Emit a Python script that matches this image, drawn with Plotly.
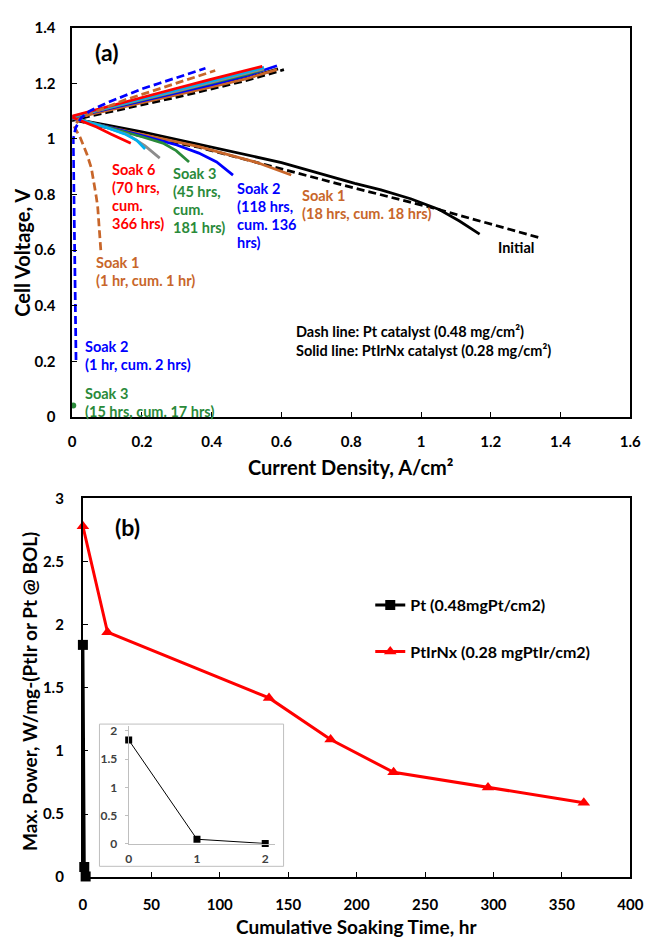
import plotly.graph_objects as go

W, H = 656, 942
FONT = "Lato, 'Open Sans', sans-serif"

# ---------------- Panel (a): polarization curves (current density A/cm2, cell voltage V)
# each curve: fuel-cell branch (fc) and electrolysis branch (el)
init_ptirnx_fc_i = [0.0, 0.03, 0.1, 0.2, 0.363, 0.6, 0.81, 0.885, 0.97, 1.052, 1.11, 1.168]
init_ptirnx_fc_v = [1.076, 1.066, 1.05, 1.025, 0.981, 0.915, 0.84, 0.817, 0.785, 0.746, 0.705, 0.658]
init_ptirnx_el_i = [0.0, 0.05, 0.1, 0.2, 0.3, 0.4, 0.5, 0.59]
init_ptirnx_el_v = [1.074, 1.09, 1.104, 1.132, 1.16, 1.188, 1.218, 1.252]

init_pt_fc_i = [0.0, 0.03, 0.1, 0.2, 0.363, 0.6, 0.81, 1.034, 1.2, 1.336]
init_pt_fc_v = [1.07, 1.06, 1.04, 1.01, 0.97, 0.893, 0.823, 0.752, 0.695, 0.646]
init_pt_el_i = [0.0, 0.05, 0.1, 0.2, 0.3, 0.4, 0.5, 0.607]
init_pt_el_v = [1.066, 1.082, 1.095, 1.122, 1.15, 1.18, 1.21, 1.249]

s1_ptirnx_fc_i = [0.0, 0.03, 0.1, 0.2, 0.363, 0.53, 0.628]
s1_ptirnx_fc_v = [1.075, 1.065, 1.043, 1.015, 0.972, 0.915, 0.87]
s1_ptirnx_el_i = [0.0, 0.1, 0.2, 0.3, 0.4, 0.5, 0.587]
s1_ptirnx_el_v = [1.073, 1.102, 1.13, 1.158, 1.187, 1.217, 1.249]

s2_ptirnx_fc_i = [0.0, 0.03, 0.1, 0.2, 0.3, 0.363, 0.414, 0.461]
s2_ptirnx_fc_v = [1.075, 1.066, 1.045, 1.012, 0.978, 0.949, 0.917, 0.87]
s2_ptirnx_el_i = [0.0, 0.1, 0.2, 0.3, 0.4, 0.5, 0.587]
s2_ptirnx_el_v = [1.077, 1.107, 1.136, 1.165, 1.195, 1.227, 1.263]

s3_ptirnx_fc_i = [0.0, 0.03, 0.1, 0.2, 0.26, 0.298, 0.335]
s3_ptirnx_fc_v = [1.076, 1.066, 1.043, 1.008, 0.985, 0.958, 0.917]
s3_ptirnx_el_i = [0.0, 0.1, 0.2, 0.3, 0.4, 0.5, 0.55]
s3_ptirnx_el_v = [1.078, 1.11, 1.14, 1.17, 1.2, 1.232, 1.25]

s4_ptirnx_fc_i = [0.0, 0.03, 0.1, 0.16, 0.209, 0.251]
s4_ptirnx_fc_v = [1.076, 1.066, 1.04, 1.015, 0.975, 0.931]
s4_ptirnx_el_i = [0.0, 0.1, 0.2, 0.3, 0.4, 0.5, 0.55]
s4_ptirnx_el_v = [1.079, 1.111, 1.142, 1.172, 1.203, 1.235, 1.252]

s5_ptirnx_fc_i = [0.0, 0.03, 0.1, 0.15, 0.185, 0.209]
s5_ptirnx_fc_v = [1.076, 1.066, 1.04, 1.018, 0.995, 0.964]
s5_ptirnx_el_i = [0.0, 0.1, 0.2, 0.3, 0.4, 0.5, 0.55]
s5_ptirnx_el_v = [1.08, 1.112, 1.144, 1.175, 1.207, 1.24, 1.257]

s6_ptirnx_fc_i = [0.0, 0.03, 0.07, 0.112, 0.14, 0.168]
s6_ptirnx_fc_v = [1.078, 1.064, 1.043, 1.017, 1.0, 0.984]
s6_ptirnx_el_i = [0.0, 0.1, 0.2, 0.3, 0.4, 0.5, 0.545]
s6_ptirnx_el_v = [1.082, 1.116, 1.149, 1.182, 1.215, 1.248, 1.261]

s1_pt_fc_i = [0.005, 0.023, 0.042, 0.055, 0.061, 0.068, 0.073, 0.077, 0.079, 0.082]
s1_pt_fc_v = [1.046, 1.005, 0.946, 0.895, 0.852, 0.80, 0.758, 0.71, 0.664, 0.6]
s1_pt_el_i = [0.005, 0.02, 0.05, 0.1, 0.15, 0.2, 0.25, 0.3, 0.35, 0.41]
s1_pt_el_v = [1.046, 1.07, 1.09, 1.115, 1.14, 1.16, 1.18, 1.2, 1.22, 1.246]

s2_pt_fc_i = [0.003, 0.004, 0.006, 0.008, 0.01, 0.011]
s2_pt_fc_v = [1.0, 0.85, 0.65, 0.45, 0.3, 0.205]
s2_pt_el_i = [0.003, 0.01, 0.025, 0.05, 0.1, 0.15, 0.2, 0.25, 0.3, 0.34, 0.382]
s2_pt_el_v = [1.0, 1.04, 1.075, 1.1, 1.13, 1.155, 1.18, 1.2, 1.22, 1.237, 1.254]

s3_pt_i = [0.003]
s3_pt_v = [0.042]

# ---------------- Panel (b): max power vs cumulative soaking time
pt_hours = [0, 1, 2]
pt_power = [1.84, 0.08, 0.005]
ptirnx_hours = [0, 18, 136, 181, 227, 296, 366]
ptirnx_power = [2.78, 1.94, 1.42, 1.09, 0.83, 0.71, 0.59]

# ---------------- Text
labels_a = [
    (["Soak 6", "(70 hrs,", "cum.", "366 hrs)"], "#FF0000", 0.107, 0.89),
    (["Soak 3", "(45 hrs,", "cum.", "181 hrs)"], "#2A8A3A", 0.282, 0.876),
    (["Soak 2", "(118 hrs,", "cum. 136", "hrs)"], "#0000FF", 0.466, 0.823),
    (["Soak 1", "(18 hrs, cum. 18 hrs)"], "#C8662A", 0.652, 0.796),
    (["Initial"], "#000000", 1.215, 0.611),
    (["Soak 1", "(1 hr, cum. 1 hr)"], "#C8662A", 0.063, 0.556),
    (["Dash line: Pt catalyst (0.48 mg/cm²)", "Solid line: PtIrNx catalyst (0.28 mg/cm²)"], "#000000", 0.636, 0.306),
    (["Soak 2", "(1 hr, cum. 2 hrs)"], "#0000FF", 0.03, 0.255),
    (["Soak 3", "(15 hrs, cum. 17 hrs)"], "#2A8A3A", 0.03, 0.086),
]

RED, BLUE, GREEN, ORANGE, GRAY, CYAN = "#FF0000", "#0000FF", "#2A8A3A", "#C8662A", "#8C8C8C", "#00B0F0"


def px(X):
    return X / W


def py(Y):
    return 1 - Y / H


def curve(fc_i, fc_v, el_i, el_v):
    return fc_i[::-1] + el_i, fc_v[::-1] + el_v


fig = go.Figure()

DASH = "8px,4px"
series_a = [
    (init_ptirnx_fc_i, init_ptirnx_fc_v, init_ptirnx_el_i, init_ptirnx_el_v, "#000000", "solid"),
    (init_pt_fc_i, init_pt_fc_v, init_pt_el_i, init_pt_el_v, "#000000", DASH),
    (s1_ptirnx_fc_i, s1_ptirnx_fc_v, s1_ptirnx_el_i, s1_ptirnx_el_v, ORANGE, "solid"),
    (s2_ptirnx_fc_i, s2_ptirnx_fc_v, s2_ptirnx_el_i, s2_ptirnx_el_v, BLUE, "solid"),
    (s3_ptirnx_fc_i, s3_ptirnx_fc_v, s3_ptirnx_el_i, s3_ptirnx_el_v, GREEN, "solid"),
    (s4_ptirnx_fc_i, s4_ptirnx_fc_v, s4_ptirnx_el_i, s4_ptirnx_el_v, GRAY, "solid"),
    (s5_ptirnx_fc_i, s5_ptirnx_fc_v, s5_ptirnx_el_i, s5_ptirnx_el_v, CYAN, "solid"),
    (s6_ptirnx_fc_i, s6_ptirnx_fc_v, s6_ptirnx_el_i, s6_ptirnx_el_v, RED, "solid"),
    (s1_pt_fc_i, s1_pt_fc_v, s1_pt_el_i, s1_pt_el_v, ORANGE, DASH),
    (s2_pt_fc_i, s2_pt_fc_v, s2_pt_el_i, s2_pt_el_v, BLUE, DASH),
]
for fi, fv, ei, ev, col, dash in series_a:
    xs, ys = curve(fi, fv, ei, ev)
    fig.add_trace(go.Scatter(x=xs, y=ys, mode="lines", xaxis="x", yaxis="y",
                             line=dict(color=col, width=2.75, dash=dash),
                             showlegend=False, hoverinfo="skip", cliponaxis=False))
fig.add_trace(go.Scatter(x=s3_pt_i, y=s3_pt_v, mode="markers", xaxis="x", yaxis="y",
                         marker=dict(color=GREEN, size=6), showlegend=False,
                         cliponaxis=False))

# Panel (b)
fig.add_trace(go.Scatter(x=pt_hours, y=pt_power, mode="lines+markers", xaxis="x2", yaxis="y2",
                         name="Pt (0.48mgPt/cm2)", legend="legend",
                         line=dict(color="#000000", width=3),
                         marker=dict(symbol="square", size=10, color="#000000"),
                         cliponaxis=False))
fig.add_trace(go.Scatter(x=ptirnx_hours, y=ptirnx_power, mode="lines+markers", xaxis="x2", yaxis="y2",
                         name="PtIrNx (0.28 mgPtIr/cm2)", legend="legend2",
                         line=dict(color=RED, width=3),
                         marker=dict(symbol="triangle-up", size=11, color=RED),
                         cliponaxis=False))
# inset
fig.add_trace(go.Scatter(x=pt_hours, y=pt_power, mode="lines+markers", xaxis="x3", yaxis="y3",
                         line=dict(color="#000000", width=1),
                         marker=dict(symbol="square", size=7, color="#000000"),
                         showlegend=False, cliponaxis=False))

tick_font = dict(family=FONT, size=15, color="#000000", weight="bold")
common = dict(showgrid=False, zeroline=False, showline=True, linecolor="#000000",
              mirror=True, ticks="inside", ticklen=5, tickwidth=1, tickcolor="#000000",
              tickfont=tick_font)

fig.update_layout(
    width=W, height=H,
    margin=dict(l=0, r=0, t=0, b=0),
    paper_bgcolor="white", plot_bgcolor="rgba(0,0,0,0)",
    font=dict(family=FONT),
    xaxis=dict(domain=[px(70), px(643)], range=[0, 1.6], dtick=0.2, anchor="y",
               linewidth=1.5, ticklabelstandoff=10, **common),
    yaxis=dict(domain=[py(415), py(18)], range=[0, 1.4], dtick=0.2, anchor="x",
               linewidth=1.5, ticklabelstandoff=12, **common),
    xaxis2=dict(domain=[px(81), px(643)], range=[0, 400], dtick=50, anchor="y2",
                linewidth=2, ticklabelstandoff=13, **common),
    yaxis2=dict(domain=[py(884), py(498)], range=[0, 3], dtick=0.5, anchor="x2",
                linewidth=2, ticklabelstandoff=14, **common),
    xaxis3=dict(domain=[px(128), px(278)], range=[0, 2.14], dtick=1, anchor="y3",
                showgrid=False, zeroline=False, showline=True, linecolor="#BFBFBF", linewidth=1,
                ticks="", tickfont=dict(family=FONT, size=12, color="#404040", weight="bold"),
                ticklabelstandoff=4),
    yaxis3=dict(domain=[py(850), py(730)], range=[0, 2.087], dtick=0.5, anchor="x3",
                showgrid=False, zeroline=False, showline=True, linecolor="#BFBFBF", linewidth=1,
                ticks="outside", ticklen=3, tickcolor="#BFBFBF",
                tickfont=dict(family=FONT, size=12, color="#404040", weight="bold"),
                ticklabelstandoff=5),
    legend=dict(x=px(376), y=py(606.7), xanchor="left", yanchor="middle",
                bgcolor="rgba(0,0,0,0)",
                font=dict(family=FONT, size=16, color="#000000", weight="bold")),
    legend2=dict(x=px(376), y=py(654), xanchor="left", yanchor="middle",
                 bgcolor="rgba(0,0,0,0)",
                 font=dict(family=FONT, size=16, color="#000000", weight="bold")),
    shapes=[dict(type="rect", xref="paper", yref="paper",
                 x0=px(98), x1=px(287), y0=py(873), y1=py(728),
                 line=dict(color="#BFBFBF", width=1), layer="above")],
)

ann = []
STEP = 0.065
for lines, col, x0, y0 in labels_a:
    for k, t in enumerate(lines):
        ann.append(dict(x=x0, y=y0 - k * STEP, xref="x", yref="y", text=t, showarrow=False,
                        xanchor="left", yanchor="middle",
                        font=dict(family=FONT, size=14.5, color=col, weight="bold")))

title_font = dict(family=FONT, size=20, color="#000000", weight="bold")
ann += [
    dict(x=px(91.7), y=py(43), xref="paper", yref="paper", text="(a)", showarrow=False,
         xanchor="left", yanchor="middle", font=dict(family=FONT, size=23, color="#000000", weight="bold")),
    dict(x=px(112), y=py(527), xref="paper", yref="paper", text="(b)", showarrow=False,
         xanchor="left", yanchor="middle", font=dict(family=FONT, size=23, color="#000000", weight="bold")),
    dict(x=px(19), y=py(248), xref="paper", yref="paper", text="Cell Voltage, V", showarrow=False,
         textangle=-90, xanchor="center", yanchor="middle", font=title_font),
    dict(x=px(356.5), y=py(466), xref="paper", yref="paper", text="Current Density, A/cm²",
         showarrow=False, xanchor="center", yanchor="middle", font=title_font),
    dict(x=px(26), y=py(695), xref="paper", yref="paper", text="Max. Power, W/mg-(PtIr or Pt @ BOL)",
         showarrow=False, textangle=-90, xanchor="center", yanchor="middle",
         font=dict(family=FONT, size=19, color="#000000", weight="bold")),
    dict(x=px(362), y=py(934), xref="paper", yref="paper", text="Cumulative Soaking Time, hr",
         showarrow=False, xanchor="center", yanchor="middle",
         font=dict(family=FONT, size=19, color="#000000", weight="bold")),
]
fig.update_layout(annotations=ann)

fig.write_html("out.html")
